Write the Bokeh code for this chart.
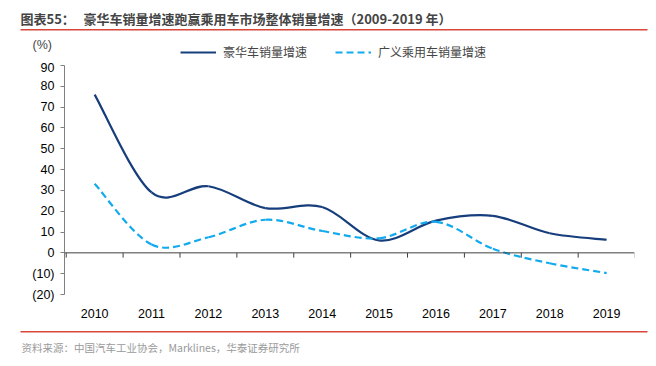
from bokeh.plotting import figure
from bokeh.models import (Span, Label, BoxAnnotation, FixedTicker, Legend, LegendItem, Range1d)
from bokeh.layouts import column
from bokeh.embed import file_html
from bokeh.resources import INLINE

years = [2010, 2011, 2012, 2013, 2014, 2015, 2016, 2017, 2018, 2019]
luxury = [76, 29, 32, 21.5, 22, 6, 15.5, 17.8, 9.4, 6.3]
broad = [33.2, 4, 7.5, 15.9, 10.5, 7, 14.9, 2, -5, -9.7]
y_ticks = [-20, -10, 0, 10, 20, 30, 40, 50, 60, 70, 80, 90]
y_tick_labels = {v: (f"({abs(v)})" if v < 0 else str(v)) for v in y_ticks}

title_prefix = "图表55："
title_main = "豪华车销量增速跑赢乘用车市场整体销量增速（2009-2019 年）"
source = "资料来源：中国汽车工业协会，Marklines，华泰证券研究所"
unit = "(%)"
name_lux = "豪华车销量增速"
name_broad = "广义乘用车销量增速"

NAVY = "#173E7C"
CYAN = "#12AAEE"
RED = "#D9473A"
CJK = "Noto Sans CJK SC"
LAT = "Liberation Sans"
W = 650


def catmull(xs, ys):
    n = len(xs)
    out = dict(x0=[], y0=[], x1=[], y1=[], cx0=[], cy0=[], cx1=[], cy1=[])
    for i in range(n - 1):
        xp, yp = (xs[i - 1], ys[i - 1]) if i > 0 else (xs[i], ys[i])
        xn, yn = (xs[i + 2], ys[i + 2]) if i + 2 < n else (xs[i + 1], ys[i + 1])
        out["x0"].append(xs[i]); out["y0"].append(ys[i])
        out["x1"].append(xs[i + 1]); out["y1"].append(ys[i + 1])
        out["cx0"].append(xs[i] + (xs[i + 1] - xp) / 6)
        out["cy0"].append(ys[i] + (ys[i + 1] - yp) / 6)
        out["cx1"].append(xs[i + 1] - (xn - xs[i]) / 6)
        out["cy1"].append(ys[i + 1] - (yn - ys[i]) / 6)
    return out


def blank(height):
    f = figure(width=W, height=height, output_backend="svg", toolbar_location=None,
               x_range=Range1d(0, W), y_range=Range1d(height, 0),
               min_border=0, x_axis_type=None, y_axis_type=None, frame_align=False)
    f.outline_line_color = None
    f.xgrid.visible = False
    f.ygrid.visible = False
    return f


# ---------- header ----------
head = blank(60)
head.add_layout(Label(x=20, y=18, text=title_prefix, text_font=CJK, text_font_size="13px",
                      text_font_style="bold", text_baseline="middle"))
head.add_layout(Label(x=83, y=18, text=title_main, text_font=CJK, text_font_size="13px",
                      text_font_style="bold", text_baseline="middle"))
head.add_layout(BoxAnnotation(left=20, right=647, top=28.5, bottom=30, fill_color=RED,
                              fill_alpha=1, line_color=None))
head.add_layout(Label(x=32, y=44, text=unit, text_font=LAT, text_font_size="12.5px",
                      text_baseline="middle"))
d1 = head.line(x=[-20, -10], y=[-20, -20], line_color=NAVY, line_width=2.2)
d2 = head.line(x=[-20, -10], y=[-20, -20], line_color=CYAN, line_width=2.2, line_dash="7 4")
legend = Legend(items=[LegendItem(label=name_lux, renderers=[d1]),
                       LegendItem(label=name_broad, renderers=[d2])],
                orientation="horizontal", location=(180, 0), padding=0, margin=0,
                glyph_width=36, glyph_height=14, label_height=14,
                label_standoff=7, spacing=28,
                label_text_font=CJK, label_text_font_size="12px",
                background_fill_alpha=0, border_line_color=None)
head.add_layout(legend)

# ---------- main chart ----------
p = figure(width=W, height=260, output_backend="svg", toolbar_location=None,
           x_range=Range1d(2009.47, 2019.49), y_range=Range1d(-20, 92.38),
           min_border_left=64, min_border_right=16, min_border_top=0, min_border_bottom=24,
           frame_align=False)
p.outline_line_color = None
p.xgrid.visible = False
p.ygrid.visible = False

p.yaxis.ticker = FixedTicker(ticks=y_ticks)
p.yaxis.major_label_overrides = y_tick_labels
p.yaxis.bounds = (-20, 90)
p.yaxis.axis_line_color = "#808080"
p.yaxis.major_tick_line_color = "#808080"
p.yaxis.major_tick_out = 4
p.yaxis.major_tick_in = 0
p.yaxis.minor_tick_line_color = None
p.yaxis.major_label_text_font = LAT
p.yaxis.major_label_text_font_size = "12.5px"
p.yaxis.major_label_text_color = "#000000"
p.yaxis.major_label_standoff = 6

p.xaxis.ticker = FixedTicker(ticks=years)
p.xaxis.axis_line_color = None
p.xaxis.major_tick_line_color = None
p.xaxis.minor_tick_line_color = None
p.xaxis.major_label_text_font = LAT
p.xaxis.major_label_text_font_size = "12.5px"
p.xaxis.major_label_text_color = "#000000"
p.xaxis.major_label_standoff = 8

p.add_layout(Span(location=0, dimension="width", line_color="#404040", line_width=1))
bounds = [years[0] - 0.5] + [y + 0.5 for y in years]
p.segment(x0=bounds, x1=bounds, y0=[0] * len(bounds), y1=[-2.3] * len(bounds),
          line_color="#404040", line_width=1)

p.bezier(source=catmull(years, luxury), x0="x0", y0="y0", x1="x1", y1="y1",
         cx0="cx0", cy0="cy0", cx1="cx1", cy1="cy1", line_color=NAVY, line_width=2.2)
p.bezier(source=catmull(years, broad), x0="x0", y0="y0", x1="x1", y1="y1",
         cx0="cx0", cy0="cy0", cx1="cx1", cy1="cy1", line_color=CYAN, line_width=2.2,
         line_dash="7 4")

# ---------- footer ----------
foot = blank(36)
foot.add_layout(BoxAnnotation(left=20, right=647, top=10.5, bottom=12, fill_color=RED,
                              fill_alpha=1, line_color=None))
foot.add_layout(Label(x=21, y=27, text=source, text_font=CJK, text_font_size="10.5px",
                      text_color="#9A9A9A", text_baseline="middle"))

layout = column(head, p, foot, spacing=0)
open("out.html", "w").write(file_html(layout, INLINE))
